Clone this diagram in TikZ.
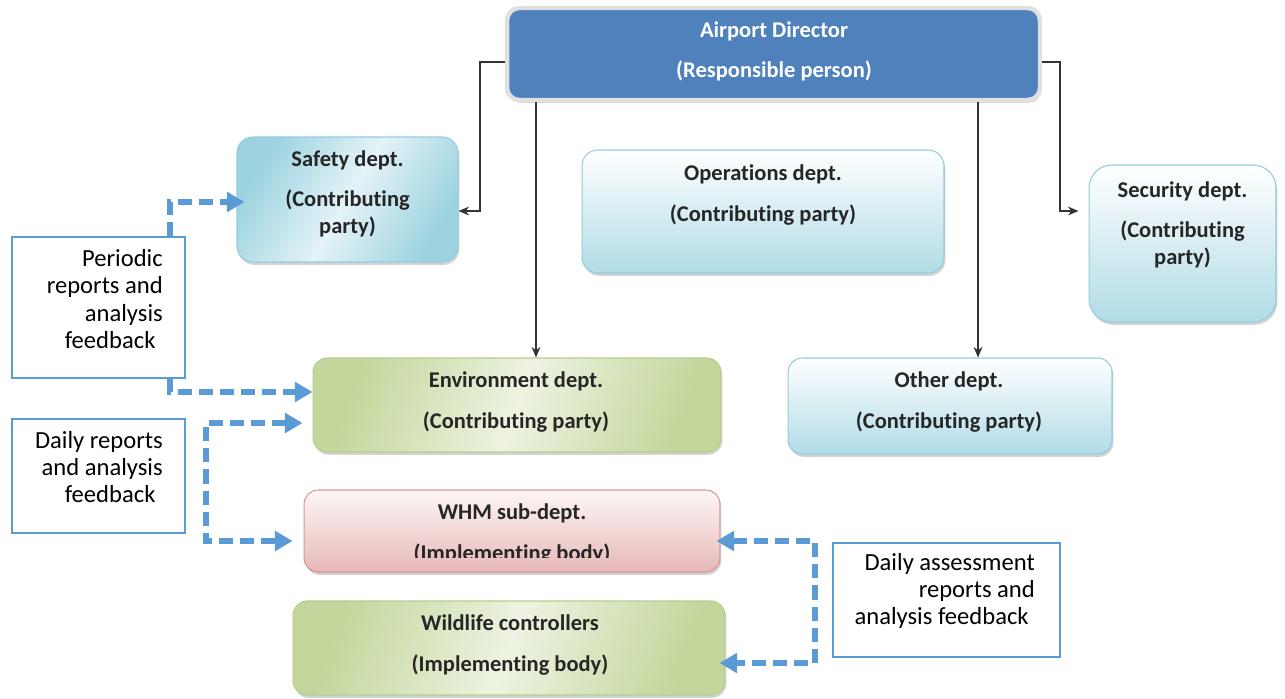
\documentclass[tikz,border=0pt]{standalone}
\usepackage{fontspec}
\setmainfont{Carlito}[Ligatures={NoCommon,NoRare}]
\usepackage{tikz}
\usetikzlibrary{arrows.meta,shadows}

\definecolor{dirblue}{HTML}{4F81BD}
\definecolor{flowblue}{HTML}{5B9BD5}
\definecolor{aqualight}{HTML}{E4F3F7}
\definecolor{aquadark}{HTML}{9DD3E0}
\definecolor{aquaedge}{HTML}{93CDDD}
\definecolor{greenlight}{HTML}{EDF3E1}
\definecolor{greendark}{HTML}{C3D69B}
\definecolor{greenedge}{HTML}{B7CE8A}
\definecolor{redlight}{HTML}{FDF6F6}
\definecolor{reddark}{HTML}{E6B9B8}
\definecolor{rededge}{HTML}{D99694}

\newcommand\boxfont{\fontsize{12.8}{15.4}\selectfont\bfseries}
\newcommand\sidefont{\fontsize{14}{15.6}\selectfont}

\begin{document}
\begin{tikzpicture}[x=0.02cm, y=-0.02cm,
    dept/.style={rounded corners=9pt, draw=aquaedge, line width=0.6pt,
        drop shadow={shadow xshift=0.8pt, shadow yshift=-1.6pt, opacity=0.35}},
    bluebox/.style={dept, top color=white, bottom color=aquadark!80},
    greenbox/.style={dept, draw=greenedge, left color=greendark, right color=greendark, middle color=greenlight, shading angle=70},
    lbl/.style={font=\boxfont, align=center, text=black!85},
    note/.style={draw=flowblue, line width=1.1pt, fill=white},
    notetxt/.style={font=\sidefont, align=right, anchor=east},
    link/.style={-{Stealth[length=6pt,width=5pt]}, line width=0.7pt, black!80},
    flow/.style={-{Triangle[length=10pt,width=11pt]}, flowblue, line width=3.2pt, dash pattern=on 8pt off 4pt},
    flowboth/.style={flow, {Triangle[length=10pt,width=11pt]}-{Triangle[length=10pt,width=11pt]}}]
    \useasboundingbox (0,0) rectangle (1285,698);

    % Director
    \node[rounded corners=7pt, fill=dirblue, draw=black!12, line width=2.5pt,
        drop shadow={shadow xshift=0.8pt, shadow yshift=-1.6pt, opacity=0.3},
        minimum width=10.66cm, minimum height=1.84cm] (dir) at (773.5,54) {};
    \node[lbl, text=white] (dirtxt) at (774,51) {Airport Director\\[7.5pt](Responsible person)};

    % Contributing departments
    \node[dept, left color=aquadark, right color=aquadark, middle color=aqualight, shading angle=60,
        minimum width=4.42cm, minimum height=2.5cm] (safety) at (347.5,199.5) {};
    \node[lbl] (safetytxt) at (347.5,194) {Safety dept.\\[7pt](Contributing\\party)};

    \node[bluebox, minimum width=7.24cm, minimum height=2.46cm] (ops) at (763,211.5) {};
    \node[lbl] (opstxt) at (763,195) {Operations dept.\\[7.5pt](Contributing party)};

    \node[bluebox, rounded corners=13pt, minimum width=3.74cm, minimum height=3.14cm] (sec) at (1182.5,243.5) {};
    \node[lbl] (sectxt) at (1182.5,225) {Security dept.\\[7pt](Contributing\\party)};

    \node[greenbox, rounded corners=8pt, minimum width=8.16cm, minimum height=1.88cm] (env) at (517,405) {};
    \node[lbl] (envtxt) at (516,402) {Environment dept.\\[7.5pt](Contributing party)};

    \node[bluebox, rounded corners=8pt, minimum width=6.48cm, minimum height=1.92cm] (other) at (950,406) {};
    \node[lbl] (othertxt) at (949,402) {Other dept.\\[7.5pt](Contributing party)};

    % Implementing bodies
    \node[dept, rounded corners=8pt, draw=rededge, top color=redlight, bottom color=reddark,
        minimum width=8.32cm, minimum height=1.64cm] (whm) at (512,531) {};
    \begin{scope}
        \clip (300,490) rectangle (725,557);
        \node[lbl] (whmtxt) at (512,534) {WHM sub-dept.\\[7.5pt](Implementing body)};
    \end{scope}

    \node[greenbox, rounded corners=8pt, minimum width=8.64cm, minimum height=1.88cm] (wild) at (509,648) {};
    \node[lbl] (wildtxt) at (510,645) {Wildlife controllers\\[7.5pt](Implementing body)};

    % Report notes
    \node[note, minimum width=3.46cm, minimum height=2.82cm] (per) at (98.5,307.5) {};
    \node[notetxt] (pertxt) at (169,299) {Periodic\\reports and\\analysis\\feedback\hspace*{0.3em}};

    \node[note, minimum width=3.46cm, minimum height=2.28cm] (daily) at (98.5,476) {};
    \node[notetxt] (dailytxt) at (169,467) {Daily reports\\and analysis\\feedback\hspace*{0.3em}};

    \node[note, minimum width=4.54cm, minimum height=2.28cm] (assess) at (946.5,600) {};
    \node[notetxt] (assesstxt) at (1041,591) {Daily assessment\\reports and\\analysis feedback\hspace*{0.25em}};

    % Lines of responsibility
    \draw[link] (dir.west |- 0,62) -| (480,211) -- (safety.east |- 0,211);
    \draw[link, shorten >=0.2cm] (dir.east |- 0,62) -| (1060,211) -- (sec.west |- 0,211);
    \draw[link] (dir.south -| 536,0) -- (env.north -| 536,0);
    \draw[link] (dir.south -| 978,0) -- (other.north -| 978,0);

    % Reporting flows
    \draw[flow, shorten >=-0.16cm] (per.north -| 170,0) |- (safety.west |- 0,202);
    \draw[flow] (per.south -| 170,0) |- (env.west |- 0,392);
    \draw[flowboth, shorten <=0.2cm, shorten >=0.22cm] (env.west |- 0,423) -| (206,480) |- (whm.west |- 0,541);
    \draw[flowboth, shorten <=-0.08cm, shorten >=-0.12cm] (whm.east |- 0,541) -| (815,600) |- (wild.east |- 0,663);

\end{tikzpicture}
\end{document}
